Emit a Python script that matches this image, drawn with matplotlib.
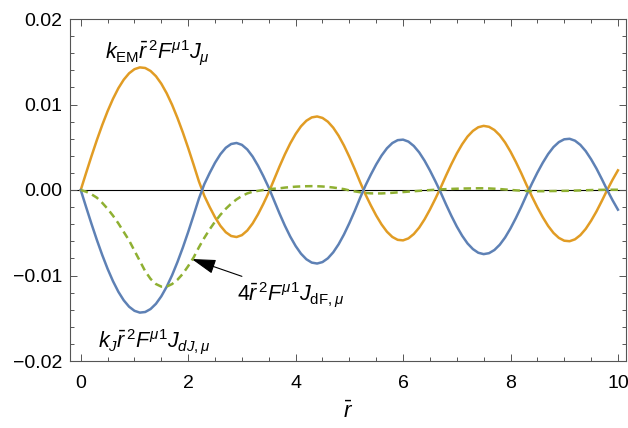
import numpy as np
import matplotlib
matplotlib.use('Agg')
import matplotlib.pyplot as plt

plt.rcParams['font.family'] = ['Liberation Sans', 'DejaVu Sans']
plt.rcParams['mathtext.fontset'] = 'custom'
plt.rcParams['mathtext.rm'] = 'Liberation Sans'
plt.rcParams['mathtext.it'] = 'Liberation Sans:italic'
plt.rcParams['mathtext.bf'] = 'Liberation Sans:bold'

# sample positions along r-bar
r = np.linspace(0, 10, 101)

k_em_curve = [
    0.0, 0.00200, 0.00396, 0.00584, 0.00760, 0.00922, 0.01066, 0.01190, 0.01290, 0.01365,
    0.01413, 0.01434, 0.01427, 0.01392, 0.01331, 0.01243, 0.01131, 0.00997, 0.00843, 0.00674,
    0.00491, 0.00298, 0.00100, -0.00068, -0.00199, -0.00319, -0.00419, -0.00494, -0.00538, -0.00550,
    -0.00528, -0.00474, -0.00391, -0.00284, -0.00161, -0.00027, 0.00124, 0.00275, 0.00417, 0.00545,
    0.00655, 0.00745, 0.00810, 0.00849, 0.00860, 0.00843, 0.00799, 0.00729, 0.00635, 0.00520,
    0.00388, 0.00245, 0.00093, -0.00052, -0.00180, -0.00299, -0.00403, -0.00488, -0.00549, -0.00583,
    -0.00589, -0.00566, -0.00515, -0.00440, -0.00343, -0.00229, -0.00104, 0.00028, 0.00169, 0.00303,
    0.00427, 0.00535, 0.00625, 0.00691, 0.00734, 0.00750, 0.00739, 0.00702, 0.00640, 0.00555,
    0.00449, 0.00328, 0.00197, 0.00057, -0.00077, -0.00203, -0.00318, -0.00420, -0.00502, -0.00560,
    -0.00593, -0.00599, -0.00577, -0.00528, -0.00455, -0.00360, -0.00251, -0.00128, 0.00000, 0.00120,
    0.00230,
]

k_j_curve = [
    0.0, -0.00200, -0.00396, -0.00584, -0.00760, -0.00922, -0.01066, -0.01190, -0.01290, -0.01365,
    -0.01413, -0.01434, -0.01427, -0.01392, -0.01331, -0.01243, -0.01131, -0.00997, -0.00843, -0.00674,
    -0.00491, -0.00298, -0.00100, 0.00068, 0.00199, 0.00319, 0.00419, 0.00494, 0.00538, 0.00550,
    0.00528, 0.00474, 0.00391, 0.00284, 0.00161, 0.00027, -0.00124, -0.00275, -0.00417, -0.00545,
    -0.00655, -0.00745, -0.00810, -0.00849, -0.00860, -0.00843, -0.00799, -0.00729, -0.00635, -0.00520,
    -0.00388, -0.00245, -0.00093, 0.00052, 0.00180, 0.00299, 0.00403, 0.00488, 0.00549, 0.00583,
    0.00589, 0.00566, 0.00515, 0.00440, 0.00343, 0.00229, 0.00104, -0.00028, -0.00169, -0.00303,
    -0.00427, -0.00535, -0.00625, -0.00691, -0.00734, -0.00750, -0.00739, -0.00702, -0.00640, -0.00555,
    -0.00449, -0.00328, -0.00197, -0.00057, 0.00077, 0.00203, 0.00318, 0.00420, 0.00502, 0.00560,
    0.00593, 0.00599, 0.00577, 0.00528, 0.00455, 0.00360, 0.00251, 0.00128, 0.00000, -0.00120,
    -0.00230,
]

df_curve = [
    0.0, -0.0002, -0.0005, -0.0009, -0.0015, -0.0022, -0.0030, -0.0039, -0.0049, -0.0059,
    -0.0071, -0.0083, -0.0095, -0.0104, -0.0110, -0.0113, -0.0113, -0.0110, -0.0105, -0.0098,
    -0.0089, -0.0079, -0.0067, -0.0056, -0.0046, -0.0037, -0.0029, -0.0022, -0.0016, -0.0011,
    -0.0007, -0.0004, -0.0002, -0.0001, 0.0, 0.0001, 0.00015, 0.0002, 0.00028, 0.00034,
    0.00039, 0.00042, 0.00044, 0.00045, 0.00044, 0.00041, 0.00036, 0.00029, 0.0002, 0.0001,
    -0.00005, -0.00016, -0.00026, -0.00034, -0.00039, -0.0004, -0.0004, -0.00037, -0.00033, -0.00028,
    -0.00024, -0.00019, -0.00014, -0.0001, -0.00005, -0.00001, 0.00003, 0.00007, 0.0001, 0.00013,
    0.00015, 0.00017, 0.00018, 0.00019, 0.0002, 0.0002, 0.00018, 0.00015, 0.00011, 0.00006,
    0.00001, -0.00004, -0.00008, -0.00011, -0.00013, -0.00014, -0.00014, -0.00013, -0.00012, -0.00011,
    -0.0001, -0.00009, -0.00007, -0.00005, -0.00003, -0.00001, 0.00001, 0.00002, 0.00003, 0.00003,
    0.00003,
]

x_ticks = [0, 2, 4, 6, 8, 10]
y_ticks = [-0.02, -0.01, 0.0, 0.01, 0.02]
y_tick_labels = ['\u22120.02', '\u22120.01', '0.00', '0.01', '0.02']

fig = plt.figure(figsize=(6.28, 4.28), dpi=100)
ax = fig.add_axes([70 / 628, 1 - 361 / 428, 556 / 628, 342 / 428])

ax.axhline(0, color='black', lw=0.8, zorder=1)
ax.plot(r, k_em_curve, color='#E19C24', lw=1.8, zorder=2)
ax.plot(r, k_j_curve, color='#5E81B5', lw=1.8, zorder=3)
ax.plot(r, df_curve, color='#8FB032', lw=1.8, ls=(0, (3.0, 1.9)), zorder=4)

ax.set_xlim(-0.2, 10.15)
ax.set_ylim(-0.02, 0.02)
ax.set_xticks(x_ticks)
ax.set_xticks(np.arange(0, 10.01, 0.5), minor=True)
ax.set_yticks(y_ticks)
ax.set_yticklabels(y_tick_labels)
ax.set_yticks(np.arange(-0.02, 0.0201, 0.002), minor=True)

for s in ax.spines.values():
    s.set_color('#555555')
    s.set_linewidth(0.8)
ax.tick_params(which='both', direction='in', top=True, right=True,
               color='#555555', width=0.7, labelsize=14)
ax.tick_params(which='major', length=5)
ax.tick_params(which='minor', length=3)
ax.tick_params(axis='x', pad=10)
ax.tick_params(axis='y', pad=5.5)

ax.set_xlabel(r'$\bar{r}$', fontsize=16, labelpad=7)

lab_size = 15.5
ax.text(0.45, 0.01544, r'$k_{\mathrm{EM}}\bar{r}^{\,2}F^{\mu 1}J_{\mu}$',
        fontsize=lab_size, ha='left', va='baseline')
ax.text(0.33, -0.01836, r'$k_J\bar{r}^{\,2}F^{\mu 1}J_{dJ,\mu}$',
        fontsize=lab_size, ha='left', va='baseline')
ax.text(2.90, -0.01295, r'$4\bar{r}^{\,2}F^{\mu 1}J_{\mathrm{dF},\mu}$',
        fontsize=lab_size, ha='left', va='baseline')
ax.annotate('', xy=(2.065, -0.00807), xytext=(3.0, -0.0101),
            arrowprops=dict(arrowstyle='-|>,head_length=1.0,head_width=0.3',
                            mutation_scale=15, color='black', lw=0.8,
                            shrinkA=0, shrinkB=0))

plt.savefig('out.png', dpi=100)
